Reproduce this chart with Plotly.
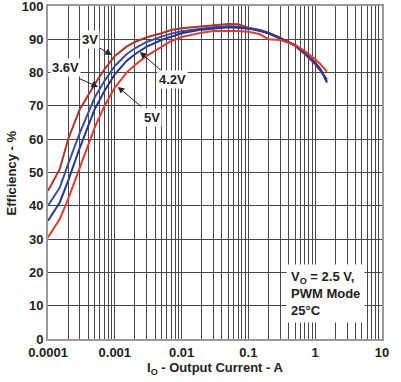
import math
import plotly.graph_objects as go

# Output current (A)
current = [1e-4, 1.5e-4, 2e-4, 3e-4, 5e-4, 7e-4, 1e-3, 1.5e-3, 2e-3, 3e-3, 5e-3, 7e-3,
           0.01, 0.02, 0.03, 0.05, 0.07, 0.1, 0.15, 0.2, 0.3, 0.5, 0.7, 1.0, 1.2, 1.5]

eff_3v = [44.5, 51, 60, 69, 76.5, 81, 85, 87.8, 89.2, 90.6, 91.8, 92.8,
          93.3, 93.9, 94.2, 94.6, 94.5, 93.5, 92.8, 92.0, 90.5, 88.0, 85.5, 82.5, 80.5, 78.0]
eff_36v = [40, 45.5, 52.5, 62, 72.5, 77.5, 82, 85.5, 87.3, 89.2, 90.8, 91.7,
           92.4, 93.3, 93.6, 93.9, 93.8, 93.4, 92.6, 91.8, 90.3, 88.2, 85.8, 83.0, 81.0, 77.5]
eff_42v = [35.5, 41, 47.5, 57.5, 69, 74.5, 79.5, 83.5, 85.5, 87.8, 89.8, 90.8,
           91.8, 92.9, 93.3, 93.6, 93.5, 93.2, 92.5, 91.8, 90.3, 88.3, 86.0, 83.0, 81.0, 77.0]
eff_5v = [30.5, 36, 42, 51.5, 63.5, 70, 75.5, 80, 82.3, 85, 87.6, 89.5,
          90.7, 92.0, 92.5, 92.6, 92.5, 92.3, 91.5, 90.0, 89.8, 88.3, 86.5, 84.0, 82.5, 80.3]

series_names = ["3V", "3.6V", "4.2V", "5V"]
series_vals = [eff_3v, eff_36v, eff_42v, eff_5v]
series_colors = ["#b3322a", "#3a4fa3", "#27388a", "#e63a2c"]

x_tick_vals = [1e-4, 1e-3, 1e-2, 1e-1, 1, 10]
x_tick_text = ["0.0001", "0.001", "0.01", "0.1", "1", "10"]
minor_vals = [k * 10.0 ** d for d in range(-4, 1) for k in range(2, 10)]
y_tick_vals = list(range(0, 101, 10))

fig = go.Figure()
for name, vals, col in zip(series_names, series_vals, series_colors):
    fig.add_trace(go.Scatter(x=current, y=vals, mode="lines", name=name,
                             line=dict(color=col, width=2)))

grid_col = "#474747"
font_fam = "Arial, Liberation Sans, sans-serif"
txt_col = "#222222"

fig.update_layout(
    width=401, height=382,
    margin=dict(l=48, r=19, t=6, b=43),
    paper_bgcolor="white", plot_bgcolor="white",
    showlegend=False,
    font=dict(family=font_fam, size=13, color=txt_col, weight="bold"),
)
fig.update_xaxes(
    type="log", range=[-4, 1], automargin=False, ticklabeloverflow="allow",
    tickvals=x_tick_vals, ticktext=x_tick_text, ticks="",
    tickfont=dict(size=13, weight="bold"),
    showgrid=True, gridcolor=grid_col, gridwidth=1,
    minor=dict(tickvals=minor_vals, showgrid=True, gridcolor=grid_col, gridwidth=1, ticks=""),
    showline=True, linecolor="#9a9a9a", linewidth=2, mirror=True,
    zeroline=False,
)
fig.update_yaxes(
    range=[0, 100], tickvals=y_tick_vals, ticks="", automargin=False, ticklabeloverflow="allow",
    tickfont=dict(size=13, weight="bold"),
    showgrid=True, gridcolor=grid_col, gridwidth=1,
    showline=True, linecolor="#9a9a9a", linewidth=2, mirror=True,
    zeroline=False,
)

# Axis titles
fig.add_annotation(x=0.5, y=-0.056, xref="paper", yref="paper", xanchor="center", yanchor="top",
                   text="I<sub>O</sub> - Output Current - A", showarrow=False,
                   font=dict(size=13, weight="bold", color=txt_col))
fig.add_annotation(x=-0.108, y=0.5, xref="paper", yref="paper", xanchor="center", yanchor="middle",
                   text="Efficiency - %", textangle=-90, showarrow=False,
                   font=dict(size=13, weight="bold", color=txt_col))

# Label annotations with arrows: text, head x, head y, tail offset ax, ay, text x, text y
labels = [
    ("3V", 9.0e-4, 85.3, -14, -8, 4.2e-4, 89.8),
    ("3.6V", 5.6e-4, 75.7, -20, -9, 1.8e-4, 81.4),
    ("4.2V", 2.37e-3, 86.2, 23, 20, 7.4e-3, 77.8),
    ("5V", 1.11e-3, 75.7, 25, 21, 3.6e-3, 66.4),
]
for txt, hx, hy, ax, ay, tx, ty in labels:
    fig.add_annotation(x=math.log10(hx), y=hy, xref="x", yref="y", text="", showarrow=True,
                       ax=ax, ay=ay, arrowhead=2, arrowsize=1.3, arrowwidth=1,
                       arrowcolor=txt_col, axref="pixel", ayref="pixel")
    fig.add_annotation(x=math.log10(tx), y=ty, xref="x", yref="y", text=txt,
                       showarrow=False, bgcolor="white", borderpad=1,
                       font=dict(size=13, weight="bold", color=txt_col))

fig.add_annotation(
    x=0.712, y=0.225, xref="paper", yref="paper", xanchor="left", yanchor="top",
    text="V<sub>O</sub> = 2.5 V,<br>PWM Mode<br>25°C", align="left", showarrow=False,
    bgcolor="white", borderpad=4, font=dict(size=13, weight="bold", color=txt_col),
)

fig.write_html("out.html", config={"displayModeBar": False},
               post_script="document.body.style.margin='0';")
